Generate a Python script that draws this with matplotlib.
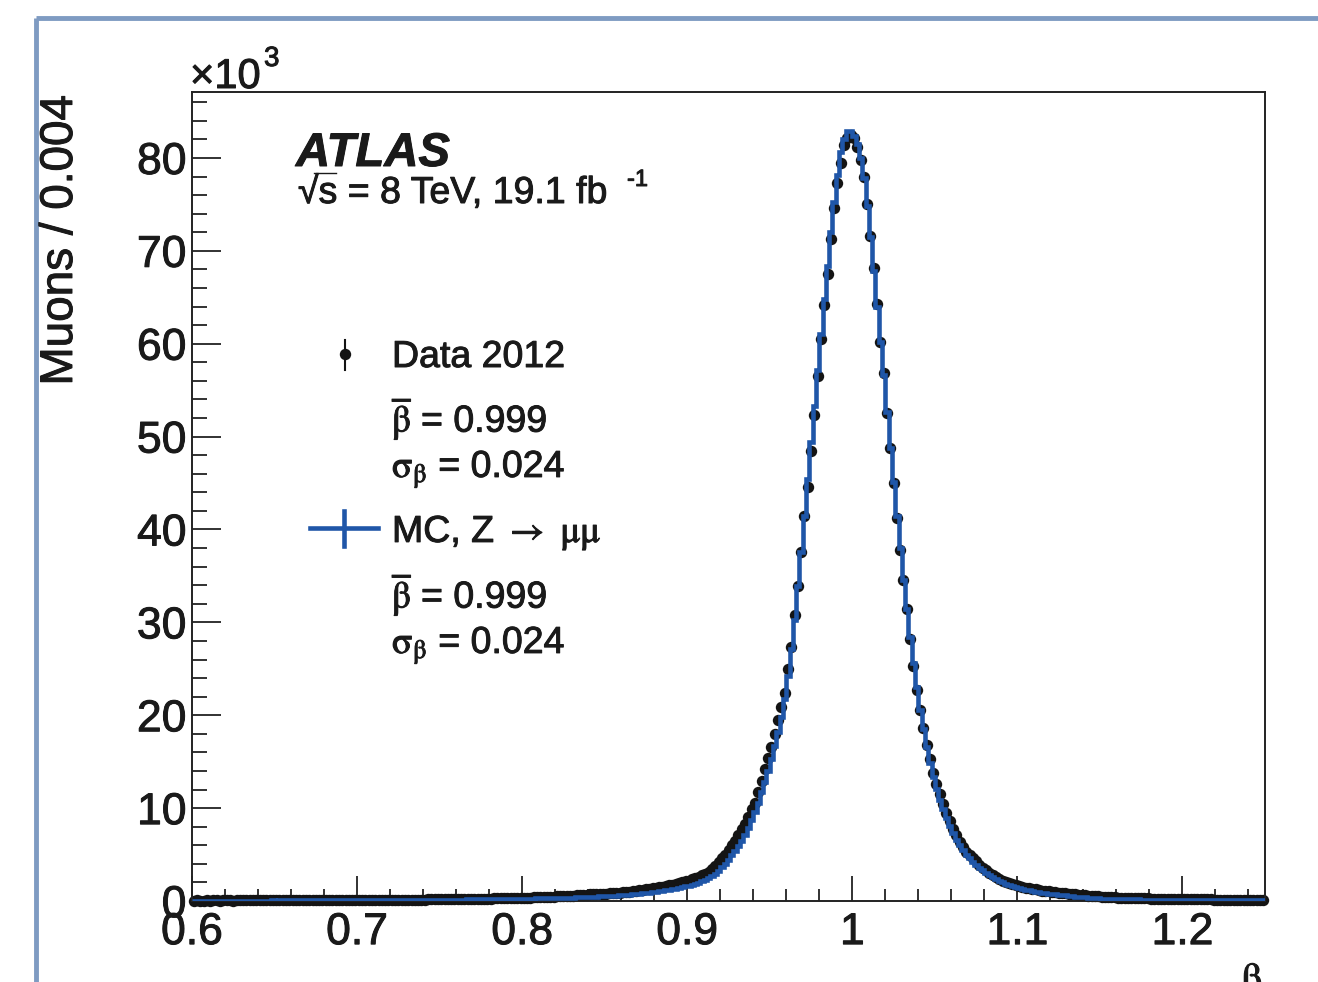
import numpy as np
import matplotlib
matplotlib.use('Agg')
import matplotlib.pyplot as plt
import matplotlib.patheffects as pe
from matplotlib.lines import Line2D
from matplotlib.ticker import MultipleLocator, FixedLocator

plt.rcParams['font.family'] = ['Liberation Sans', 'DejaVu Sans']
plt.rcParams['mathtext.fontset'] = 'stix'
plt.rcParams['mathtext.default'] = 'rm'

# ---------------- data (counts in thousands per bin) ----------------
BIN_LO, BIN_W = 0.6, 0.002

data_k = [
    0.05,0.06,0.05,0.05,0.06,0.05,0.06,0.06,0.05,0.06,
    0.06,0.06,0.05,0.06,0.06,0.07,0.06,0.06,0.07,0.06,
    0.07,0.06,0.07,0.07,0.06,0.07,0.07,0.07,0.08,0.07,
    0.07,0.08,0.08,0.07,0.08,0.08,0.08,0.09,0.08,0.09,
    0.09,0.09,0.09,0.10,0.09,0.10,0.10,0.10,0.11,0.10,
    0.11,0.11,0.11,0.12,0.11,0.12,0.12,0.13,0.12,0.13,
    0.13,0.13,0.14,0.14,0.14,0.15,0.15,0.15,0.16,0.16,
    0.16,0.17,0.17,0.18,0.18,0.18,0.19,0.19,0.20,0.20,
    0.21,0.21,0.22,0.22,0.23,0.23,0.24,0.24,0.25,0.26,
    0.26,0.27,0.28,0.29,0.29,0.30,0.31,0.32,0.33,0.34,
    0.35,0.36,0.37,0.39,0.40,0.41,0.43,0.44,0.46,0.48,
    0.50,0.52,0.53,0.55,0.57,0.59,0.61,0.63,0.65,0.68,
    0.70,0.72,0.74,0.76,0.78,0.80,0.82,0.84,0.87,0.89,
    0.92,0.96,1.00,1.05,1.10,1.15,1.20,1.26,1.31,1.37,
    1.43,1.49,1.56,1.62,1.69,1.76,1.84,1.92,2.00,2.10,
    2.20,2.32,2.45,2.60,2.75,2.92,3.10,3.40,3.75,4.15,
    4.6,5.0,5.5,6.0,6.5,7.1,7.7,8.3,9.0,9.9,
    10.6,11.7,12.9,14.2,15.4,16.6,18.0,19.5,20.9,22.4,
    25.0,27.4,30.8,33.9,37.6,41.4,44.6,48.5,52.3,56.5,
    60.5,64.2,67.5,71.3,74.6,77.3,79.5,81.4,82.2,82.5,
    82.2,81.2,79.8,78.0,75.0,71.6,68.1,64.3,60.2,56.8,
    52.5,48.8,45.0,41.2,37.8,34.6,31.4,28.2,25.3,22.7,
    20.6,18.6,16.8,15.3,13.8,12.6,11.5,10.4,9.5,8.6,
    7.8,7.1,6.3,5.8,5.3,4.9,4.6,4.3,3.9,3.6,
    3.3,3.0,2.8,2.6,2.4,2.2,2.05,1.9,1.8,1.7,
    1.6,1.52,1.45,1.38,1.32,1.25,1.19,1.13,1.08,1.03,
    0.98,0.94,0.90,0.86,0.82,0.78,0.74,0.70,0.67,0.64,
    0.61,0.58,0.55,0.52,0.49,0.46,0.44,0.42,0.40,0.38,
    0.36,0.35,0.34,0.33,0.32,0.31,0.30,0.29,0.28,0.27,
    0.26,0.25,0.25,0.24,0.23,0.23,0.22,0.22,0.21,0.21,
    0.20,0.20,0.19,0.19,0.18,0.18,0.17,0.17,0.17,0.16,
    0.16,0.15,0.15,0.15,0.14,0.14,0.14,0.13,0.13,0.13,
    0.12,0.12,0.12,0.11,0.11,
]

mc_k = [
    0.03,0.03,0.04,0.03,0.04,0.04,0.04,0.03,0.04,0.04,
    0.04,0.04,0.04,0.05,0.04,0.04,0.05,0.05,0.04,0.05,
    0.05,0.05,0.05,0.05,0.06,0.05,0.06,0.06,0.06,0.06,
    0.06,0.06,0.06,0.07,0.06,0.07,0.07,0.07,0.07,0.07,
    0.07,0.08,0.08,0.08,0.08,0.08,0.09,0.09,0.09,0.09,
    0.09,0.09,0.10,0.10,0.10,0.10,0.10,0.11,0.11,0.11,
    0.11,0.11,0.12,0.12,0.12,0.12,0.12,0.13,0.13,0.13,
    0.13,0.13,0.14,0.14,0.14,0.14,0.15,0.15,0.15,0.15,
    0.16,0.16,0.16,0.17,0.17,0.17,0.18,0.18,0.18,0.19,
    0.19,0.20,0.20,0.21,0.21,0.22,0.22,0.23,0.23,0.24,
    0.24,0.25,0.25,0.26,0.27,0.27,0.28,0.29,0.30,0.31,
    0.32,0.33,0.34,0.35,0.36,0.37,0.38,0.39,0.41,0.42,
    0.44,0.45,0.47,0.49,0.51,0.53,0.55,0.57,0.59,0.61,
    0.63,0.66,0.69,0.72,0.75,0.79,0.82,0.86,0.90,0.95,
    1.00,1.05,1.10,1.15,1.21,1.27,1.34,1.41,1.49,1.57,
    1.66,1.76,1.87,1.99,2.12,2.27,2.44,2.65,2.92,3.25,
    3.62,4.0,4.4,4.9,5.4,5.9,6.5,7.1,7.9,8.7,
    9.6,10.6,11.7,12.8,14.0,15.3,16.7,18.2,19.8,21.7,
    24.2,27.1,30.3,33.9,37.6,41.5,45.4,49.4,53.3,57.2,
    61.0,64.8,68.4,72.0,75.3,78.2,80.6,82.0,82.9,82.9,
    82.4,81.5,80.0,77.8,74.8,71.5,67.8,64.0,60.2,56.6,
    52.6,48.8,45.1,41.5,38.0,34.6,31.4,28.4,25.6,23.0,
    20.6,18.5,16.6,14.9,13.4,12.1,10.9,9.9,8.9,8.1,
    7.3,6.6,6.0,5.5,5.0,4.6,4.2,3.9,3.6,3.3,
    3.0,2.78,2.57,2.37,2.18,2.01,1.86,1.72,1.60,1.49,
    1.39,1.30,1.22,1.15,1.08,1.02,0.96,0.90,0.85,0.80,
    0.76,0.72,0.68,0.64,0.60,0.56,0.52,0.48,0.45,0.42,
    0.39,0.36,0.33,0.30,0.27,0.25,0.24,0.23,0.22,0.21,
    0.20,0.19,0.19,0.18,0.18,0.17,0.17,0.16,0.16,0.15,
    0.15,0.15,0.14,0.14,0.13,0.13,0.13,0.12,0.12,0.12,
    0.11,0.11,0.11,0.11,0.10,0.10,0.10,0.10,0.10,0.09,
    0.09,0.09,0.09,0.08,0.08,0.08,0.08,0.08,0.07,0.07,
    0.07,0.07,0.07,0.06,0.06,
]

x_ticks = [0.6, 0.7, 0.8, 0.9, 1.0, 1.1, 1.2]
x_tick_labels = ['0.6', '0.7', '0.8', '0.9', '1', '1.1', '1.2']
y_ticks = [0, 10, 20, 30, 40, 50, 60, 70, 80]
y_tick_labels = ['0', '10', '20', '30', '40', '50', '60', '70', '80']

legend_data_label = 'Data 2012'
legend_mc_label = r'MC, Z $\rightarrow$ $\mu\mu$'
data_stats = [r'$\overline{\beta}$ = 0.999', r'$\sigma_{\beta}$ = 0.024']
mc_stats = [r'$\overline{\beta}$ = 0.999', r'$\sigma_{\beta}$ = 0.024']

# ---------------- figure ----------------
W, H = 1318, 982
BLUE = '#1f56a8'
INK = '#1a1a1a'
HEAVY = [pe.withStroke(linewidth=0.7, foreground=INK)]
fig = plt.figure(figsize=(W / 100, H / 100), dpi=100)
fig.patch.set_facecolor('white')

def fx(px):
    return px / W

def fy(py):
    return 1 - py / H

ax = fig.add_axes([fx(192), fy(901), (1265 - 192) / W, (901 - 92) / H])

n = len(data_k)
edges = BIN_LO + BIN_W * np.arange(n + 1)
centers = 0.5 * (edges[:-1] + edges[1:])

ax.plot(centers, data_k, 'o', color='#141414', ms=8.2, mew=0, zorder=2, clip_on=False)
ax.stairs(mc_k, edges, color=BLUE, lw=3.3, baseline=None, zorder=3)

ax.set_xlim(0.6, 1.25)
ax.set_ylim(0, 87.1)

ax.xaxis.set_major_locator(FixedLocator(x_ticks))
ax.set_xticklabels(x_tick_labels)
ax.xaxis.set_minor_locator(MultipleLocator(0.02))
ax.yaxis.set_major_locator(FixedLocator(y_ticks))
ax.set_yticklabels(y_tick_labels)
ax.yaxis.set_minor_locator(MultipleLocator(2))

ax.tick_params(axis='both', which='both', direction='in', top=False, right=False,
               width=1.3, color='#222222', labelsize=32, labelcolor=INK)
ax.tick_params(axis='x', which='major', length=18, pad=8)
ax.tick_params(axis='x', which='minor', length=9)
ax.tick_params(axis='y', which='major', length=21, pad=4)
ax.tick_params(axis='y', which='minor', length=10.5)
for lab in ax.get_xticklabels() + ax.get_yticklabels():
    lab.set_path_effects(HEAVY)
for s in ax.spines.values():
    s.set_linewidth(1.4)
    s.set_color('#222222')

def ftext(px, py, s, **kw):
    kw.setdefault('color', INK)
    kw.setdefault('ha', 'left')
    kw.setdefault('va', 'baseline')
    t = fig.text(fx(px), fy(py), s, **kw)
    t.set_path_effects(HEAVY)
    return t

# axis titles
ftext(60, 95, 'Muons / 0.004', rotation=90, ha='center', va='top', fontsize=33)
ftext(1252, 962, r'$\beta$', ha='center', va='top', fontsize=30)
ftext(190, 88, '\u00d710', fontsize=30)
ftext(264, 66, '3', fontsize=20)

# ATLAS label
ftext(296, 166, 'ATLAS', fontsize=34, fontweight='bold', fontstyle='italic')
ftext(298, 203, '\u221as = 8 TeV, 19.1 fb', fontsize=27)
fig.add_artist(Line2D([fx(314), fx(336)], [fy(173), fy(173)], color=INK, lw=1.0,
                      transform=fig.transFigure))
ftext(627, 186, '-1', fontsize=17)

# legend (drawn manually, ROOT style)
TX = 392
fig.add_artist(Line2D([fx(345), fx(345)], [fy(340), fy(370)], color='#141414', lw=1.5,
                      transform=fig.transFigure))
fig.add_artist(Line2D([fx(345)], [fy(354)], marker='o', ms=8.2, color='#141414', mew=0,
                      transform=fig.transFigure))
ftext(TX, 367, legend_data_label, fontsize=27)
ftext(TX, 432, data_stats[0], fontsize=27)
ftext(TX, 477, data_stats[1], fontsize=27)

fig.add_artist(Line2D([fx(310), fx(378)], [fy(528), fy(528)], color=BLUE, lw=3.3,
                      transform=fig.transFigure))
fig.add_artist(Line2D([fx(344), fx(344)], [fy(511), fy(546)], color=BLUE, lw=3.3,
                      transform=fig.transFigure))
ftext(TX, 542, legend_mc_label, fontsize=27)
ftext(TX, 608, mc_stats[0], fontsize=27)
ftext(TX, 653, mc_stats[1], fontsize=27)

# slide frame (light blue border)
fig.add_artist(Line2D([fx(36), fx(36)], [fy(18), fy(982)], color='#7f9bc2', lw=3.5,
                      transform=fig.transFigure, solid_capstyle='butt'))
fig.add_artist(Line2D([fx(36), fx(1318)], [fy(18), fy(18)], color='#7f9bc2', lw=3.5,
                      transform=fig.transFigure, solid_capstyle='butt'))

fig.savefig('out.png', dpi=100)
